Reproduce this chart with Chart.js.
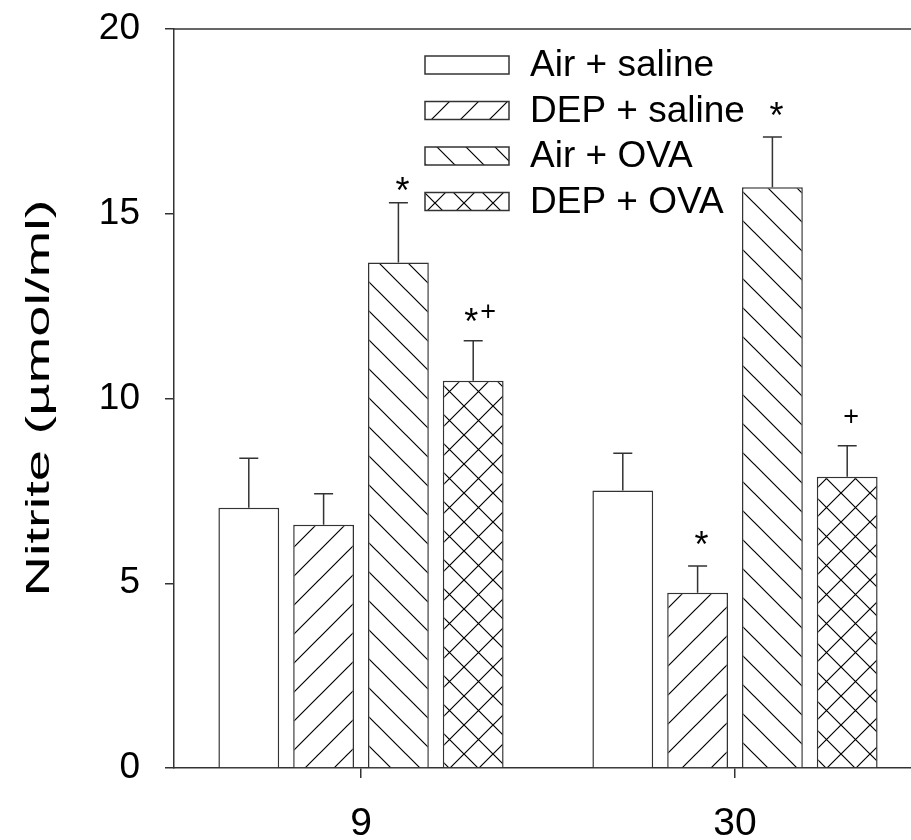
<!DOCTYPE html>
<html>
<head>
<meta charset="utf-8">
<script src="https://cdn.jsdelivr.net/npm/chart.js@4.4.1/dist/chart.umd.min.js"></script>
<style>
  html, body { margin: 0; padding: 0; background: #fff; overflow: hidden; }
  #wrap { width: 935px; height: 840px; }
</style>
</head>
<body>
<div id="wrap"><canvas id="nitriteChart" width="935" height="840"></canvas></div>
<script>
// days
var categories = ["9", "30"];
var seriesLabels = ["Air + saline", "DEP + saline", "Air + OVA", "DEP + OVA"];

// means
var airSaline = [7.04, 7.51];
var depSaline = [6.58, 4.74];
var airOva = [13.68, 15.72];
var depOva = [10.48, 7.88];

// SEM (upper bars only)
var semAirSaline = [1.34, 1.01];
var semDepSaline = [0.84, 0.73];
var semAirOva = [1.62, 1.36];
var semDepOva = [1.08, 0.84];

// significance marks
var marksAirSaline = ["", ""];
var marksDepSaline = ["", "*"];
var marksAirOva = ["*", "*"];
var marksDepOva = ["*+", "+"];

var yTicks = [0, 5, 10, 15, 20];

var FONT = "'Liberation Sans', Arial, Helvetica, sans-serif";
var LINE = "#333";

function hatch(kind) {
  var s = 29;
  var c = document.createElement("canvas");
  c.width = s; c.height = s;
  var g = c.getContext("2d");
  g.fillStyle = "#fff";
  g.fillRect(0, 0, s, s);
  g.strokeStyle = "#000";
  g.lineWidth = 1.2;
  g.beginPath();
  if (kind == "/" || kind == "x") {
    g.moveTo(-2, 2); g.lineTo(2, -2);
    g.moveTo(0, s); g.lineTo(s, 0);
    g.moveTo(s - 2, s + 2); g.lineTo(s + 2, s - 2);
  }
  if (kind == "\\" || kind == "x") {
    g.moveTo(0, 0); g.lineTo(s, s);
    g.moveTo(-2, s - 2); g.lineTo(2, s + 2);
    g.moveTo(s - 2, -2); g.lineTo(s + 2, 2);
  }
  g.stroke();
  return g.createPattern(c, "repeat");
}

var fills = ["#fff", hatch("/"), hatch("\\"), hatch("x")];
var values = [airSaline, depSaline, airOva, depOva];
var sems = [semAirSaline, semDepSaline, semAirOva, semDepOva];
var marks = [marksAirSaline, marksDepSaline, marksAirOva, marksDepOva];

var datasets = seriesLabels.map(function (lab, i) {
  return {
    label: lab,
    data: values[i],
    backgroundColor: fills[i],
    borderColor: LINE,
    borderWidth: 1.5,
    categoryPercentage: 0.8,
    barPercentage: 0.813
  };
});

var errorBars = {
  id: "errorBars",
  afterDatasetsDraw: function (chart) {
    var ctx = chart.ctx;
    var ys = chart.scales.y;
    ctx.save();
    ctx.strokeStyle = LINE;
    ctx.lineWidth = 1.5;
    chart.data.datasets.forEach(function (ds, i) {
      chart.getDatasetMeta(i).data.forEach(function (bar, j) {
        var top = ys.getPixelForValue(values[i][j] + sems[i][j]);
        ctx.beginPath();
        ctx.moveTo(bar.x, bar.y);
        ctx.lineTo(bar.x, top);
        ctx.moveTo(bar.x - 9.5, top);
        ctx.lineTo(bar.x + 9.5, top);
        ctx.stroke();
      });
    });
    ctx.restore();
  }
};

// gap (px) between cap and mark centre
var markGap = [[30, 30], [30, 30], [21, 30], [28, 30]];

var sigMarks = {
  id: "sigMarks",
  afterDatasetsDraw: function (chart) {
    var ctx = chart.ctx;
    var ys = chart.scales.y;
    ctx.save();
    ctx.fillStyle = "#000";
    ctx.textAlign = "center";
    ctx.textBaseline = "alphabetic";
    chart.data.datasets.forEach(function (ds, i) {
      chart.getDatasetMeta(i).data.forEach(function (bar, j) {
        var m = marks[i][j];
        if (!m) return;
        var cy = ys.getPixelForValue(values[i][j] + sems[i][j]) - markGap[i][j];
        if (m == "*+") {
          ctx.font = "36px " + FONT;
          ctx.fillText("*", bar.x - 2, cy + 21);
          ctx.font = "27px " + FONT;
          ctx.fillText("+", bar.x + 15, cy + 7);
        } else if (m == "*") {
          ctx.font = "36px " + FONT;
          ctx.fillText("*", bar.x + 4, cy + 21);
        } else {
          ctx.font = "27px " + FONT;
          ctx.fillText("+", bar.x + 4, cy + 9);
        }
      });
    });
    ctx.restore();
  }
};

var frameAndLegend = {
  id: "frameAndLegend",
  afterDraw: function (chart) {
    var ctx = chart.ctx;
    var a = chart.chartArea;
    ctx.save();
    // top frame line
    ctx.strokeStyle = LINE;
    ctx.lineWidth = 1.5;
    ctx.beginPath();
    ctx.moveTo(a.left, a.top);
    ctx.lineTo(a.right, a.top);
    ctx.stroke();

    // legend
    ctx.font = "37px " + FONT;
    ctx.textAlign = "left";
    ctx.textBaseline = "middle";
    chart.data.datasets.forEach(function (ds, i) {
      var y = 56 + i * 45.5;
      ctx.fillStyle = ds.backgroundColor;
      ctx.fillRect(425, y, 84, 18);
      ctx.strokeStyle = LINE;
      ctx.lineWidth = 1.5;
      ctx.strokeRect(425, y, 84, 18);
      ctx.fillStyle = "#000";
      ctx.fillText(ds.label, 530, y + 10);
    });

    // y axis title (stretched along its length like the original)
    var title = "Nitrite (\u00b5mol/ml)";
    ctx.font = "33px " + FONT;
    var w = ctx.measureText(title).width;
    ctx.translate(40, 398);
    ctx.rotate(-Math.PI / 2);
    ctx.scale(397 / w, 1);
    ctx.textAlign = "center";
    ctx.textBaseline = "middle";
    ctx.fillText(title, 0, 0);
    ctx.restore();
  }
};

var nitriteChart = new Chart(document.getElementById("nitriteChart"), {
  type: "bar",
  data: { labels: categories, datasets: datasets },
  options: {
    responsive: false,
    animation: false,
    devicePixelRatio: 1,
    layout: { padding: { top: 29, right: 13, left: 0, bottom: 0 } },
    plugins: { legend: { display: false }, tooltip: { enabled: false } },
    scales: {
      x: {
        afterFit: function (s) { s.height = 72; s.paddingLeft = 0; s.paddingRight = 0; },
        grid: { display: true, drawOnChartArea: false, offset: false, tickLength: 10, color: LINE, lineWidth: 1.5 },
        border: { color: LINE, width: 1.5 },
        ticks: { color: "#000", padding: 23, font: { family: FONT, size: 39 } }
      },
      y: {
        min: 0,
        max: 20,
        afterFit: function (s) { s.width = 174; s.paddingTop = 0; s.paddingBottom = 0; },
        afterBuildTicks: function (s) { s.ticks = yTicks.map(function (v) { return { value: v }; }); },
        grid: { display: true, drawOnChartArea: false, tickLength: 9, color: LINE, lineWidth: 1.5 },
        border: { color: LINE, width: 1.5 },
        ticks: { color: "#000", padding: 25, font: { family: FONT, size: 37 } }
      }
    }
  },
  plugins: [errorBars, sigMarks, frameAndLegend]
});
</script>
</body>
</html>
